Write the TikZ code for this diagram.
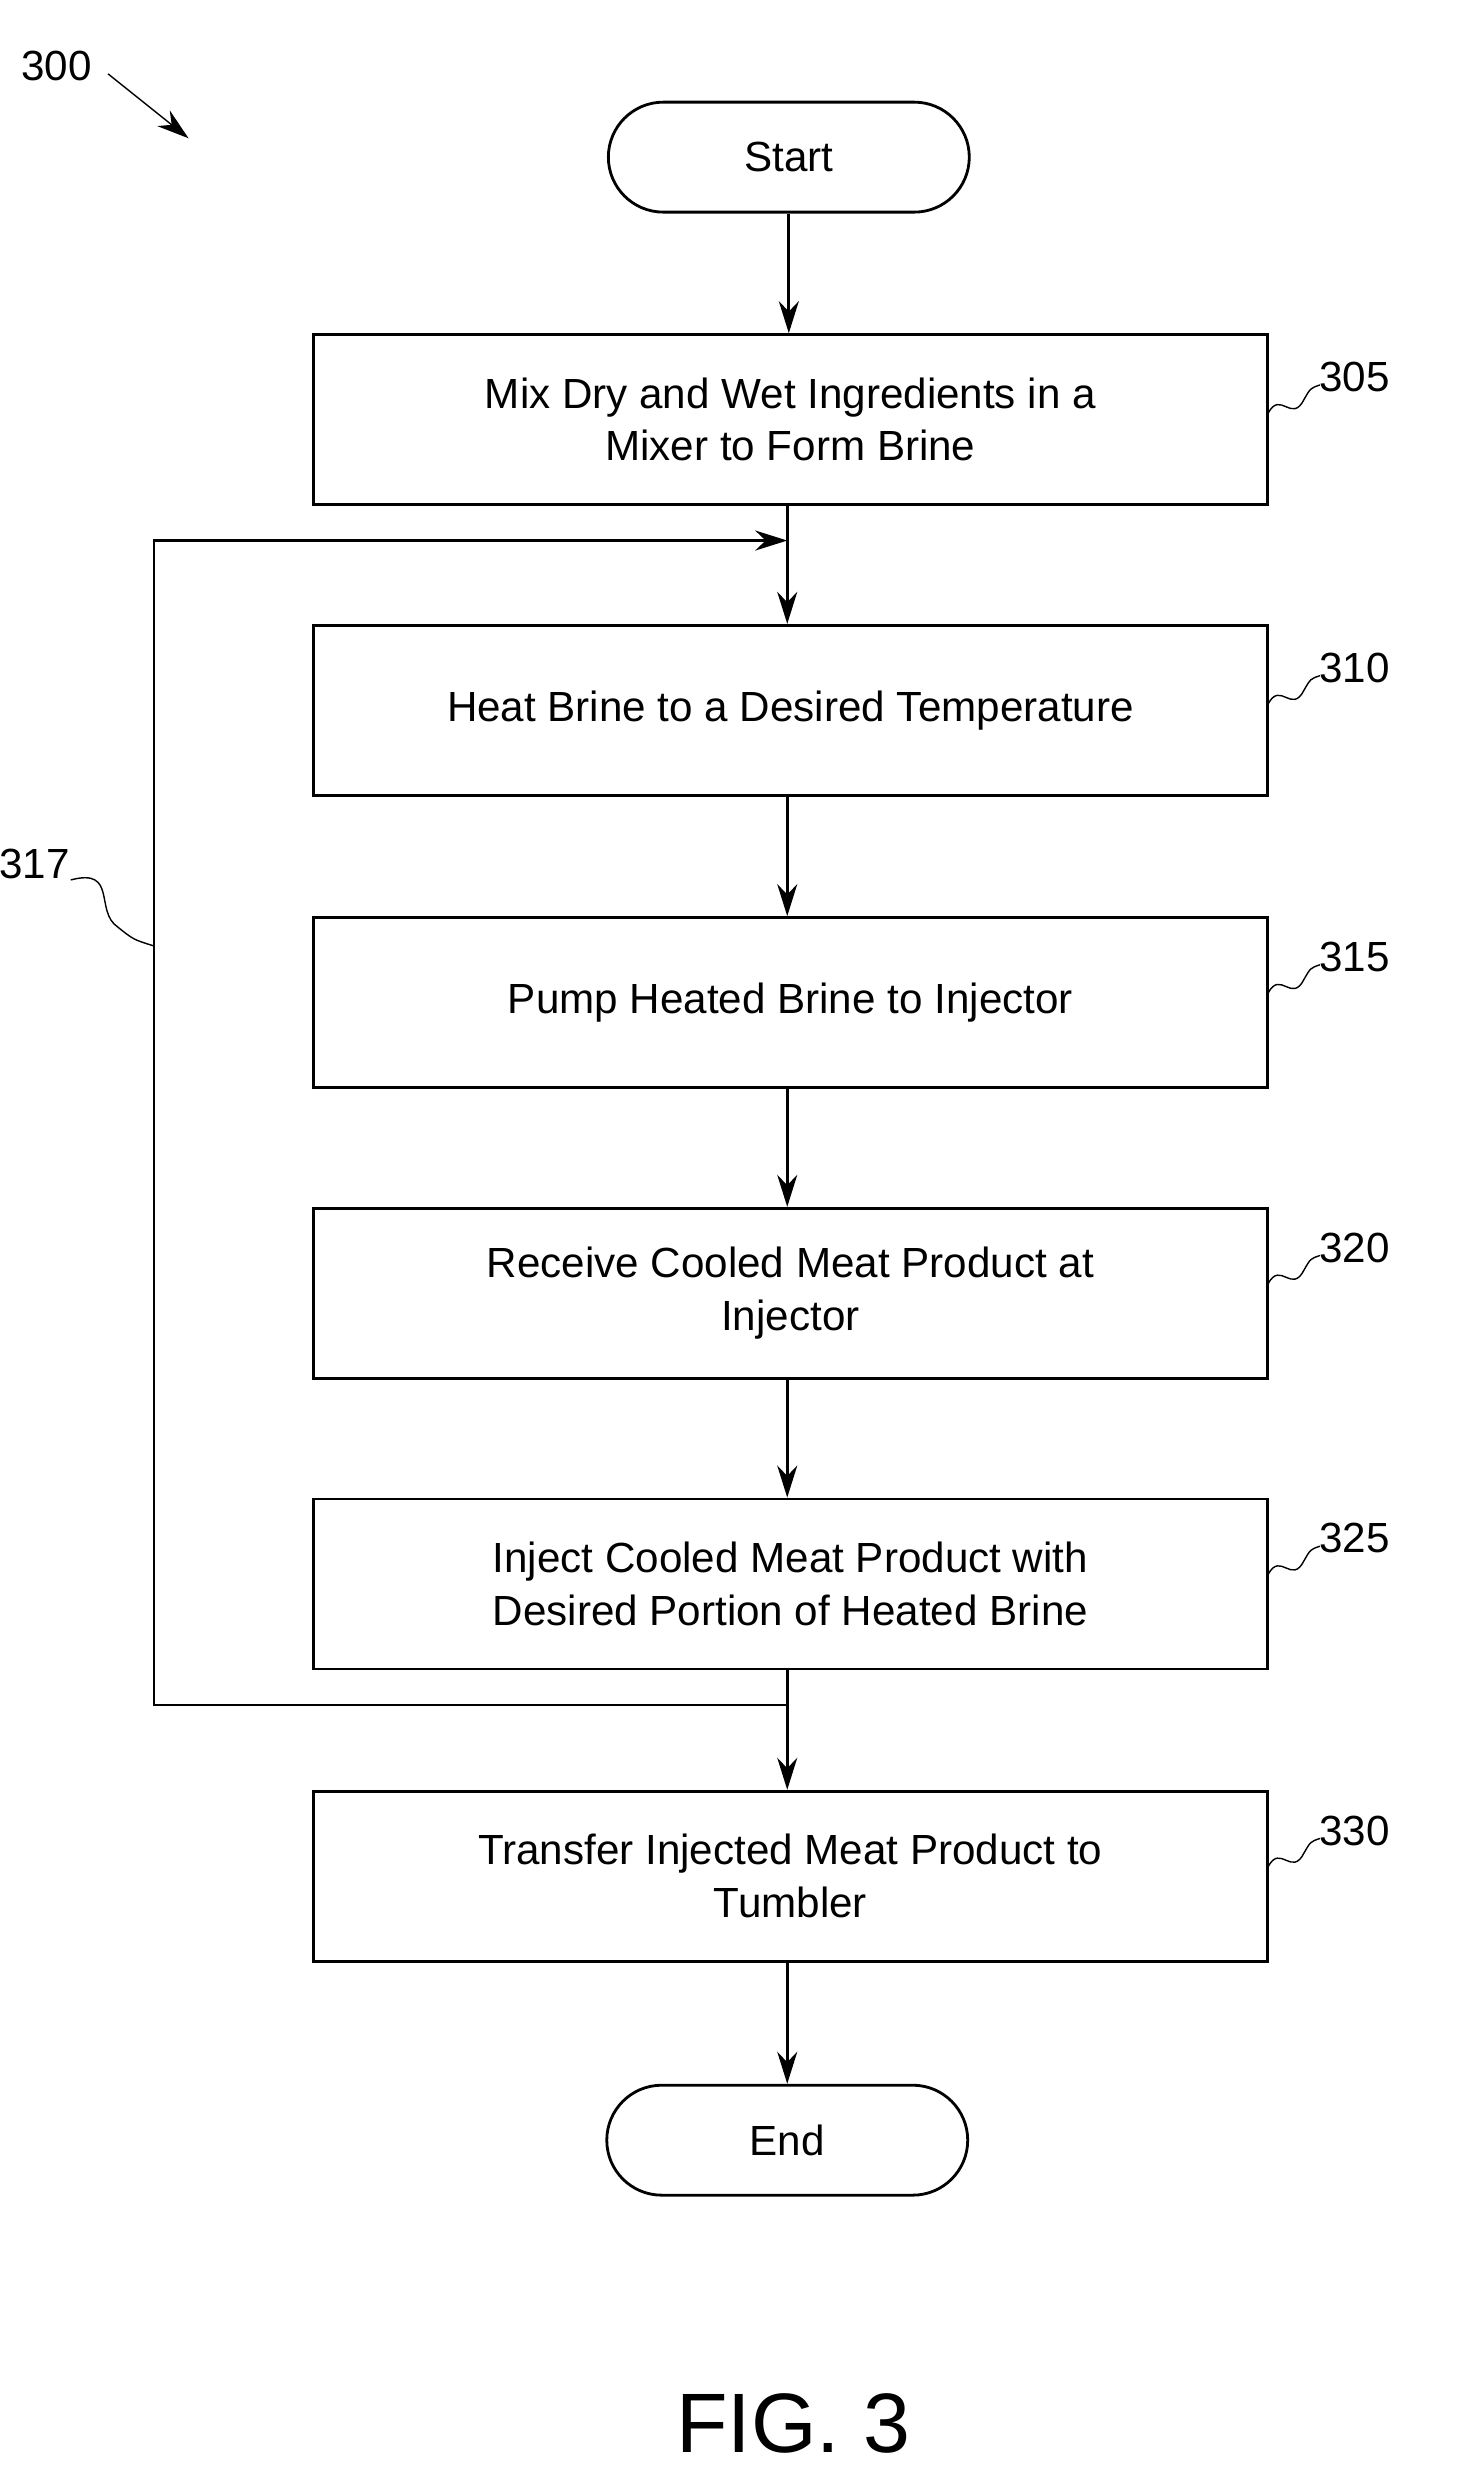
\documentclass[tikz,border=0pt]{standalone}
\usepackage{fontspec}
\setmainfont{Liberation Sans}
\usetikzlibrary{arrows.meta}
\begin{document}
\begin{tikzpicture}[x=0.01571cm, y=-0.01571cm, thick, >={Stealth[length=3.2mm,width=2mm]},
  every node/.style={font=\fontsize{12}{15}\selectfont, align=center},
  procbox/.style={draw, minimum width=9.54cm, minimum height=1.70cm, inner sep=2pt},
  term/.style={draw, rounded corners=0.55cm, minimum width=3.61cm, minimum height=1.10cm}]
\useasboundingbox (0,0) rectangle (932,1570);

\node[term] (start) at (502,100) {Start};
\node[procbox] (305) at (503,267) {Mix Dry and Wet Ingredients in a\\Mixer to Form Brine};
\node[procbox] (310) at (503,452) {Heat Brine to a Desired Temperature};
\node[procbox] (315) at (503,638) {Pump Heated Brine to Injector};
\node[procbox] (320) at (503,823) {Receive Cooled Meat Product at\\Injector};
\node[procbox] (325) at (503,1008) {Inject Cooled Meat Product with\\Desired Portion of Heated Brine};
\node[procbox] (330) at (503,1194) {Transfer Injected Meat Product to\\Tumbler};
\node[term] (end) at (501,1362) {End};

\coordinate (top) at (501,344);
\coordinate (bot) at (501,1085);

\draw[->] (start) -- (305.north -| start);
\draw (305.south -| top) -- (top);
\draw[->] (top) -- (310.north -| top);
\draw[->] (310.south -| top) -- (315.north -| top);
\draw[->] (315.south -| top) -- (320.north -| top);
\draw[->] (320.south -| top) -- (325.north -| top);
\draw (325.south -| top) -- (bot);
\draw[->] (bot) -- (330.north -| top);
\draw[->] (330.south -| top) -- (end.north -| top);
\draw[->] (bot) -- (98,1085) -- (98,344) -- (top);

% reference numerals
\foreach \n/\y in {305/240, 310/425, 315/609, 320/794, 325/979, 330/1165} {
  \node (l\n) at (862,\y) {\n};
  \draw[thin] (807,\y+23) .. controls (815,\y+8) and (822,\y+30) .. (830,\y+14) .. controls (834,\y+7) .. (840,\y+5);
}
\node (l317) at (22,550) {317};
\draw[thin] (45,560) .. controls (75,552) and (60,580) .. (75,590) .. controls (85,598) .. (98,602);
\node (l300) at (36,42) {300};
\coordinate (a300) at (120,88);
\draw[thin,->] (l300.east) ++(2,5) -- (a300);
\node[font=\fontsize{24}{28}\selectfont] (fig) at (505,1542) {FIG. 3};
\end{tikzpicture}
\end{document}
